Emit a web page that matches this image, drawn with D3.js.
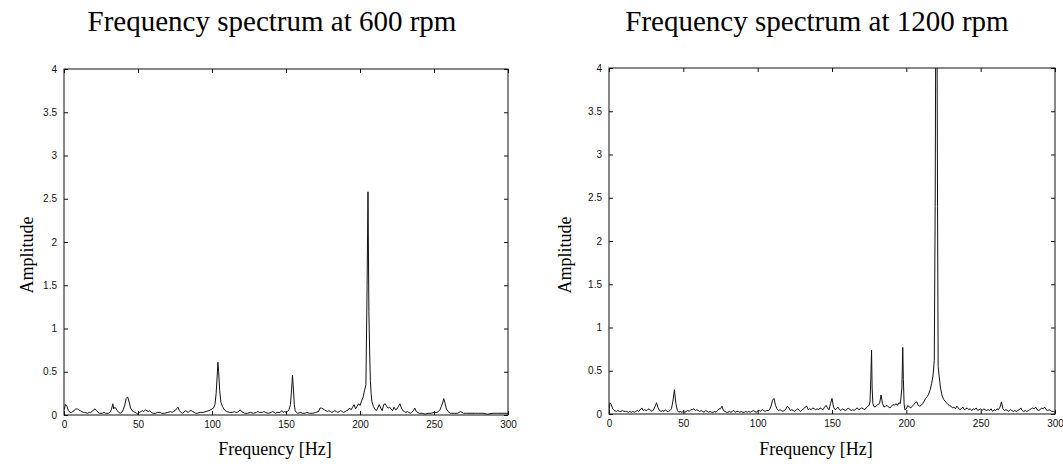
<!DOCTYPE html>
<html>
<head>
<meta charset="utf-8">
<script src="https://cdn.jsdelivr.net/npm/d3@7"></script>
<style>
  html, body { margin: 0; padding: 0; background: #fff; }
  svg { display: block; }
</style>
</head>
<body>
<svg id="chart" width="1063" height="467"></svg>
<script>
// ---------------- DATA ----------------
const titles = ["Frequency spectrum at 600 rpm", "Frequency spectrum at 1200 rpm"];
const xLabel = "Frequency [Hz]";
const yLabel = "Amplitude";
const xTicks = [0, 50, 100, 150, 200, 250, 300];
const yTicks = [0, 0.5, 1, 1.5, 2, 2.5, 3, 3.5, 4];
const yTickLabels = ["0", "0.5", "1", "1.5", "2", "2.5", "3", "3.5", "4"];

const freq600 = [0,1,2,3,4,5,6,8,9,10,11,12,13,14,16,17,18,19,20,21,22,23,24,26,27,28,30,31,32,33,33.6,34.3,35,36,37,38,39,40,41,42,43,44,45,46,47,48,49,50,51,52,53,54,55,56,57,58,59,60,62,63,65,66,68,70,72,73,74,75,76,77,78,79,80,81,82,83,84,85,86,87,88,89,90,92,94,96,98,100,101,102,102.8,103.5,104,104.5,105.2,106,107,108,109,110,112,114,115,116,117,118,119,120,121,122,124,126,128,130,131,132,134,135,136,138,140,141,142,143,144,146,147,148,149,150,151,152,153,153.8,154.4,155,155.6,156.2,157,158,160,161,163,164,166,168,170,172,173,174,175,176,177,178,179,180,181,182,183,184,185,186,187,188,189,190,191,192,193,194,195,196,197,198,199,200,201,202,203,204,204.8,205.4,206,206.5,207,207.5,208,209,210,211,212,213,214,215,216,217,218,219,220,221,222,223,224,225,226,227,228,229,230,231,232,233,234,235,236,237,238,240,242,244,246,248,250,252,253,254,255,256,256.6,257.4,258.4,259.5,261,262,264,266,267,268,270,272,275,278,280,283,286,290,293,296,300];
const amp600  = [0.06,0.12,0.10,0.05,0.03,0.03,0.04,0.07,0.07,0.06,0.05,0.04,0.03,0.03,0.02,0.03,0.03,0.04,0.06,0.07,0.05,0.03,0.02,0.02,0.03,0.02,0.02,0.03,0.06,0.13,0.07,0.09,0.08,0.05,0.03,0.02,0.03,0.06,0.11,0.19,0.21,0.15,0.08,0.05,0.04,0.03,0.02,0.01,0.03,0.04,0.05,0.04,0.06,0.05,0.04,0.05,0.03,0.02,0.02,0.03,0.03,0.02,0.02,0.03,0.04,0.03,0.04,0.05,0.07,0.09,0.05,0.03,0.02,0.03,0.05,0.04,0.03,0.05,0.05,0.04,0.03,0.02,0.02,0.03,0.03,0.04,0.05,0.07,0.08,0.12,0.25,0.45,0.61,0.50,0.28,0.15,0.10,0.07,0.05,0.04,0.03,0.03,0.04,0.03,0.03,0.04,0.06,0.04,0.03,0.02,0.02,0.03,0.02,0.03,0.04,0.03,0.03,0.04,0.03,0.02,0.03,0.04,0.03,0.02,0.03,0.03,0.05,0.03,0.04,0.03,0.04,0.06,0.12,0.30,0.46,0.30,0.12,0.05,0.03,0.02,0.03,0.02,0.02,0.03,0.02,0.02,0.03,0.04,0.08,0.08,0.07,0.06,0.05,0.04,0.05,0.04,0.03,0.04,0.05,0.04,0.03,0.04,0.05,0.04,0.03,0.04,0.05,0.06,0.08,0.06,0.09,0.12,0.07,0.10,0.13,0.11,0.16,0.20,0.28,0.35,1.50,2.58,1.20,0.75,0.40,0.25,0.16,0.10,0.07,0.05,0.08,0.12,0.08,0.05,0.12,0.13,0.10,0.08,0.09,0.07,0.05,0.09,0.06,0.07,0.10,0.13,0.08,0.05,0.04,0.03,0.04,0.03,0.02,0.03,0.05,0.08,0.04,0.02,0.02,0.01,0.02,0.02,0.03,0.03,0.04,0.06,0.10,0.15,0.19,0.14,0.07,0.04,0.02,0.02,0.02,0.02,0.03,0.04,0.02,0.02,0.02,0.02,0.02,0.02,0.01,0.02,0.02,0.02,0.02,0.02];

const freq1200 = [0,0.7,1.5,2.5,3.5,5,6,7,8,9,10,11,12,13,14,15,16,17,18,19,20,21,22,23,24,25,26,27,28,29,30,31,32,33,34,35,36,37,38,39,40,41,42,43,44,45,46,47,48,49,50,51,52,53,54,55,56,57,58,59,60,61,62,63,64,65,66,67,68,69,70,71,72,73,74,75,76,77,78,79,80,81,82,83,84,85,86,87,88,89,90,91,92,93,94,95,96,97,98,99,100,101,102,103,104,105,106,107,108,109,110,111,112,113,114,115,116,117,118,119,120,121,122,123,124,125,126,127,128,129,130,131,132,133,134,135,136,137,138,139,140,141,142,143,144,145,146,147,148,149,150,151,152,153,154,155,156,157,158,159,160,161,162,163,164,165,166,167,168,169,170,171,172,173,174,175,175.6,176.2,176.6,177,177.5,178,179,180,181,182,183,184,185,186,187,188,189,190,191,192,193,194,195,196,197,197.6,198,198.5,199,200,201,202,203,204,205,206,207,208,209,210,211,212,213,214,215,216,217,218,218.8,219.4,219.8,220.6,221,221.4,222,223,224,225,226,227,228,229,230,231,232,233,234,235,236,237,238,239,240,241,242,243,244,245,246,247,248,249,250,251,252,253,254,255,256,257,258,259,260,261,262,263,264,265,266,267,268,269,270,271,272,273,274,275,276,277,278,279,280,281,282,283,284,285,286,287,288,289,290,291,292,293,294,295,296,297,298,299,300];
const amp1200  = [0.05,0.13,0.11,0.06,0.04,0.03,0.04,0.03,0.03,0.04,0.03,0.03,0.03,0.02,0.03,0.02,0.03,0.02,0.03,0.04,0.03,0.05,0.07,0.04,0.05,0.04,0.05,0.06,0.04,0.03,0.05,0.09,0.13,0.07,0.04,0.03,0.04,0.03,0.05,0.03,0.03,0.04,0.06,0.15,0.28,0.12,0.04,0.02,0.03,0.02,0.03,0.02,0.03,0.04,0.03,0.05,0.05,0.06,0.04,0.05,0.04,0.03,0.04,0.03,0.02,0.04,0.03,0.02,0.03,0.02,0.02,0.03,0.02,0.04,0.06,0.06,0.09,0.04,0.03,0.02,0.02,0.03,0.02,0.03,0.04,0.02,0.03,0.03,0.02,0.03,0.02,0.02,0.03,0.02,0.03,0.02,0.03,0.04,0.03,0.02,0.03,0.04,0.03,0.05,0.04,0.03,0.04,0.04,0.05,0.09,0.16,0.18,0.10,0.06,0.04,0.05,0.04,0.03,0.04,0.06,0.09,0.07,0.04,0.05,0.04,0.03,0.05,0.06,0.04,0.03,0.05,0.06,0.08,0.09,0.05,0.06,0.05,0.07,0.06,0.05,0.06,0.05,0.07,0.06,0.05,0.08,0.10,0.07,0.05,0.12,0.18,0.08,0.05,0.06,0.08,0.05,0.04,0.06,0.05,0.04,0.05,0.07,0.05,0.04,0.05,0.04,0.06,0.07,0.05,0.06,0.07,0.06,0.05,0.07,0.09,0.10,0.15,0.45,0.74,0.30,0.12,0.09,0.08,0.10,0.11,0.12,0.22,0.12,0.08,0.09,0.10,0.08,0.07,0.09,0.11,0.10,0.12,0.10,0.13,0.12,0.30,0.77,0.40,0.12,0.05,0.06,0.10,0.08,0.07,0.09,0.11,0.13,0.14,0.10,0.09,0.10,0.12,0.15,0.18,0.20,0.23,0.28,0.35,0.45,0.62,2.40,4.60,4.60,2.40,0.55,0.45,0.30,0.22,0.17,0.15,0.13,0.11,0.10,0.09,0.07,0.08,0.06,0.09,0.07,0.05,0.06,0.08,0.05,0.06,0.07,0.05,0.06,0.04,0.06,0.05,0.07,0.04,0.05,0.06,0.04,0.06,0.05,0.04,0.05,0.04,0.06,0.03,0.05,0.04,0.06,0.05,0.08,0.14,0.06,0.04,0.05,0.04,0.03,0.05,0.04,0.03,0.04,0.03,0.04,0.05,0.07,0.04,0.03,0.04,0.03,0.04,0.05,0.06,0.07,0.06,0.08,0.05,0.04,0.05,0.07,0.06,0.08,0.05,0.04,0.05,0.04,0.03,0.03,0.02];

// ---------------- DRAW ----------------
const svg = d3.select("#chart");
const serif = "'Liberation Serif', 'Times New Roman', serif";
const sans = "'Liberation Sans', Arial, Helvetica, sans-serif";

const panels = [
  { title: titles[0], freq: freq600, amp: amp600, left: 64, right: 508, top: 69, bottom: 415, titleX: 272, labelX: 275, ampX: 33 },
  { title: titles[1], freq: freq1200, amp: amp1200, left: 609, right: 1055, top: 68, bottom: 414, titleX: 817, labelX: 816, ampX: 571 }
];

panels.forEach((p, i) => {
  const x = d3.scaleLinear().domain([0, 300]).range([p.left, p.right]);
  const y = d3.scaleLinear().domain([0, 4]).range([p.bottom, p.top]);
  const g = svg.append("g");

  const clipId = "clip" + i;
  svg.append("clipPath").attr("id", clipId)
    .append("rect").attr("x", p.left).attr("y", p.top)
    .attr("width", p.right - p.left).attr("height", p.bottom - p.top);

  const pts = p.freq.map((f, k) => [f, p.amp[k]]);
  g.append("path")
    .datum(pts)
    .attr("clip-path", `url(#${clipId})`)
    .attr("fill", "none")
    .attr("stroke", "#111")
    .attr("stroke-width", 1)
    .attr("stroke-linejoin", "round")
    .attr("d", d3.line().x(d => x(d[0])).y(d => y(d[1])));

  const styleAxis = sel => {
    sel.select(".domain").remove();
    sel.selectAll(".tick line").attr("stroke", "#111");
    sel.selectAll("text").attr("font-family", sans).attr("font-size", "10px").attr("fill", "#111");
  };

  g.append("g").attr("transform", `translate(0,${p.bottom})`)
    .call(d3.axisBottom(x).tickValues(xTicks).tickSizeInner(-4).tickSizeOuter(0).tickPadding(6).tickFormat(d3.format("d")))
    .call(styleAxis);
  g.append("g").attr("transform", `translate(0,${p.top})`)
    .call(d3.axisTop(x).tickValues(xTicks).tickSizeInner(-4).tickSizeOuter(0).tickFormat(""))
    .call(styleAxis);
  g.append("g").attr("transform", `translate(${p.left},0)`)
    .call(d3.axisLeft(y).tickValues(yTicks).tickSizeInner(-4).tickSizeOuter(0).tickPadding(7)
      .tickFormat((d, k) => yTickLabels[k]))
    .call(styleAxis);
  g.append("g").attr("transform", `translate(${p.right},0)`)
    .call(d3.axisRight(y).tickValues(yTicks).tickSizeInner(-4).tickSizeOuter(0).tickFormat(""))
    .call(styleAxis);

  g.append("rect")
    .attr("x", p.left).attr("y", p.top)
    .attr("width", p.right - p.left).attr("height", p.bottom - p.top)
    .attr("fill", "none").attr("stroke", "#111").attr("stroke-width", 1);

  svg.append("text")
    .attr("x", p.titleX).attr("y", 31)
    .attr("text-anchor", "middle")
    .attr("font-family", serif).attr("font-size", "29px").attr("fill", "#000")
    .text(p.title);

  svg.append("text")
    .attr("x", p.labelX).attr("y", 455)
    .attr("text-anchor", "middle")
    .attr("font-family", serif).attr("font-size", "18px").attr("fill", "#000")
    .text(xLabel);

  svg.append("text")
    .attr("transform", `translate(${p.ampX},255) rotate(-90)`)
    .attr("text-anchor", "middle")
    .attr("font-family", serif).attr("font-size", "18px").attr("fill", "#000")
    .text(yLabel);
});
</script>
</body>
</html>
